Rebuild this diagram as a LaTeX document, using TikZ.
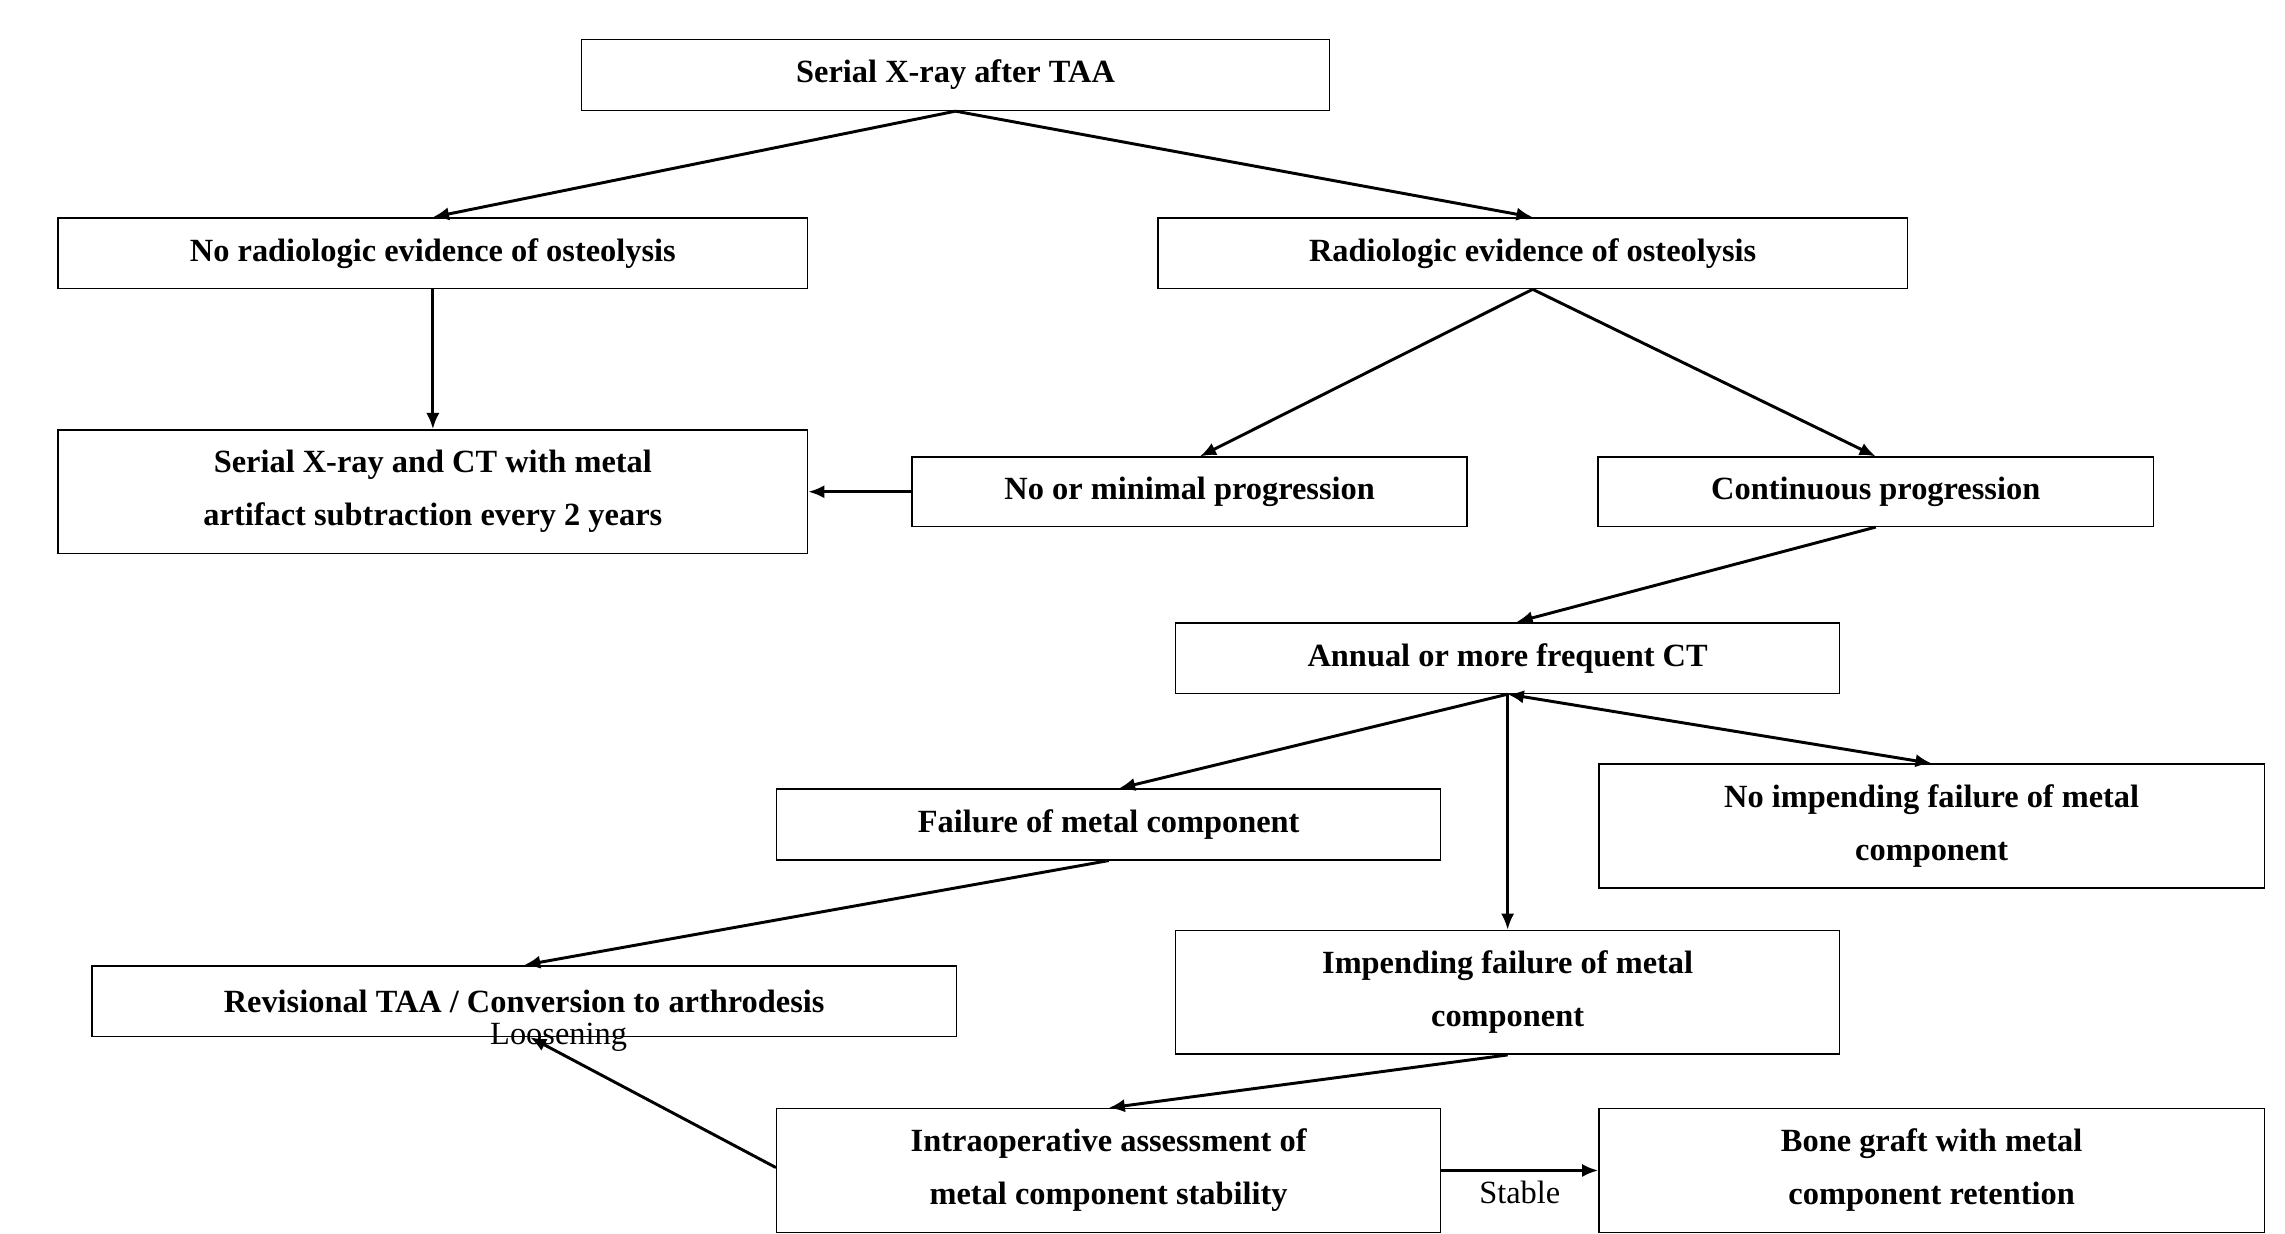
\documentclass[tikz,border=0pt]{standalone}
\usepackage{fontspec}
\setmainfont{Liberation Serif}
\usetikzlibrary{arrows.meta}
\begin{document}
\begin{tikzpicture}[x=1pt,y=-1pt,
  bx/.style={draw,line width=1pt,inner sep=0pt,align=center,font=\fontsize{22}{36}\selectfont\bfseries},
  ar/.style={line width=2pt,-{Latex[length=11pt,width=9pt]}},
  lb/.style={font=\fontsize{22}{26}\selectfont}]
\useasboundingbox (0,0) rectangle (1552,838);
\node[bx,minimum width=508,minimum height=48] (top) at (649,51) {Serial X-ray after TAA};
\node[bx,minimum width=509,minimum height=48] (noev) at (294,172) {No radiologic evidence of osteolysis};
\node[bx,minimum width=509,minimum height=48] (ev) at (1041,172) {Radiologic evidence of osteolysis};
\node[bx,minimum width=509,minimum height=84] (serial) at (294,334) {Serial X-ray and CT with metal\\artifact subtraction every 2 years};
\node[bx,minimum width=377,minimum height=47] (nomin) at (808,334) {No or minimal progression};
\node[bx,minimum width=377,minimum height=47] (cont) at (1274,334) {Continuous progression};
\node[bx,minimum width=451,minimum height=48] (annual) at (1024,447) {Annual or more frequent CT};
\node[bx,minimum width=451,minimum height=48] (fail) at (753,560) {Failure of metal component};
\node[bx,minimum width=452,minimum height=84] (noimp) at (1312,561) {No impending failure of metal\\component};
\node[bx,minimum width=451,minimum height=84] (imp) at (1024,674) {Impending failure of metal\\component};
\node[bx,minimum width=587,minimum height=48] (rev) at (356,680) {Revisional TAA / Conversion to arthrodesis};
\node[bx,minimum width=451,minimum height=84] (intra) at (753,795) {Intraoperative assessment of\\metal component stability};
\node[bx,minimum width=452,minimum height=84] (bone) at (1312,795) {Bone graft with metal\\component retention};
\draw[ar] (top.south) -- (noev.north);
\draw[ar] (top.south) -- (ev.north);
\draw[ar] (noev.south) -- (serial.north);
\draw[ar] (nomin.west) -- (serial.east);
\draw[ar] (ev.south) -- ([xshift=7pt]nomin.north);
\draw[ar] (ev.south) -- (cont.north);
\draw[ar] (cont.south) -- ([xshift=6pt]annual.north);
\draw[ar] (annual.south) -- ([xshift=7pt]fail.north);
\draw[ar] (annual.south) -- (imp.north);
\draw[ar,{Latex[length=11pt,width=9pt]}-{Latex[length=11pt,width=9pt]}] (annual.south) -- (noimp.north);
\draw[ar] (fail.south) -- (rev.north);
\draw[ar] (imp.south) -- (intra.north);
\draw[ar] ([yshift=2pt]intra.west) -- node[lb,pos=0.8,left=14pt,above=4pt]{Loosening} ([xshift=4pt]rev.south);
\draw[ar] (intra.east) -- node[lb,below=3pt]{Stable} (bone.west);
\end{tikzpicture}
\end{document}
